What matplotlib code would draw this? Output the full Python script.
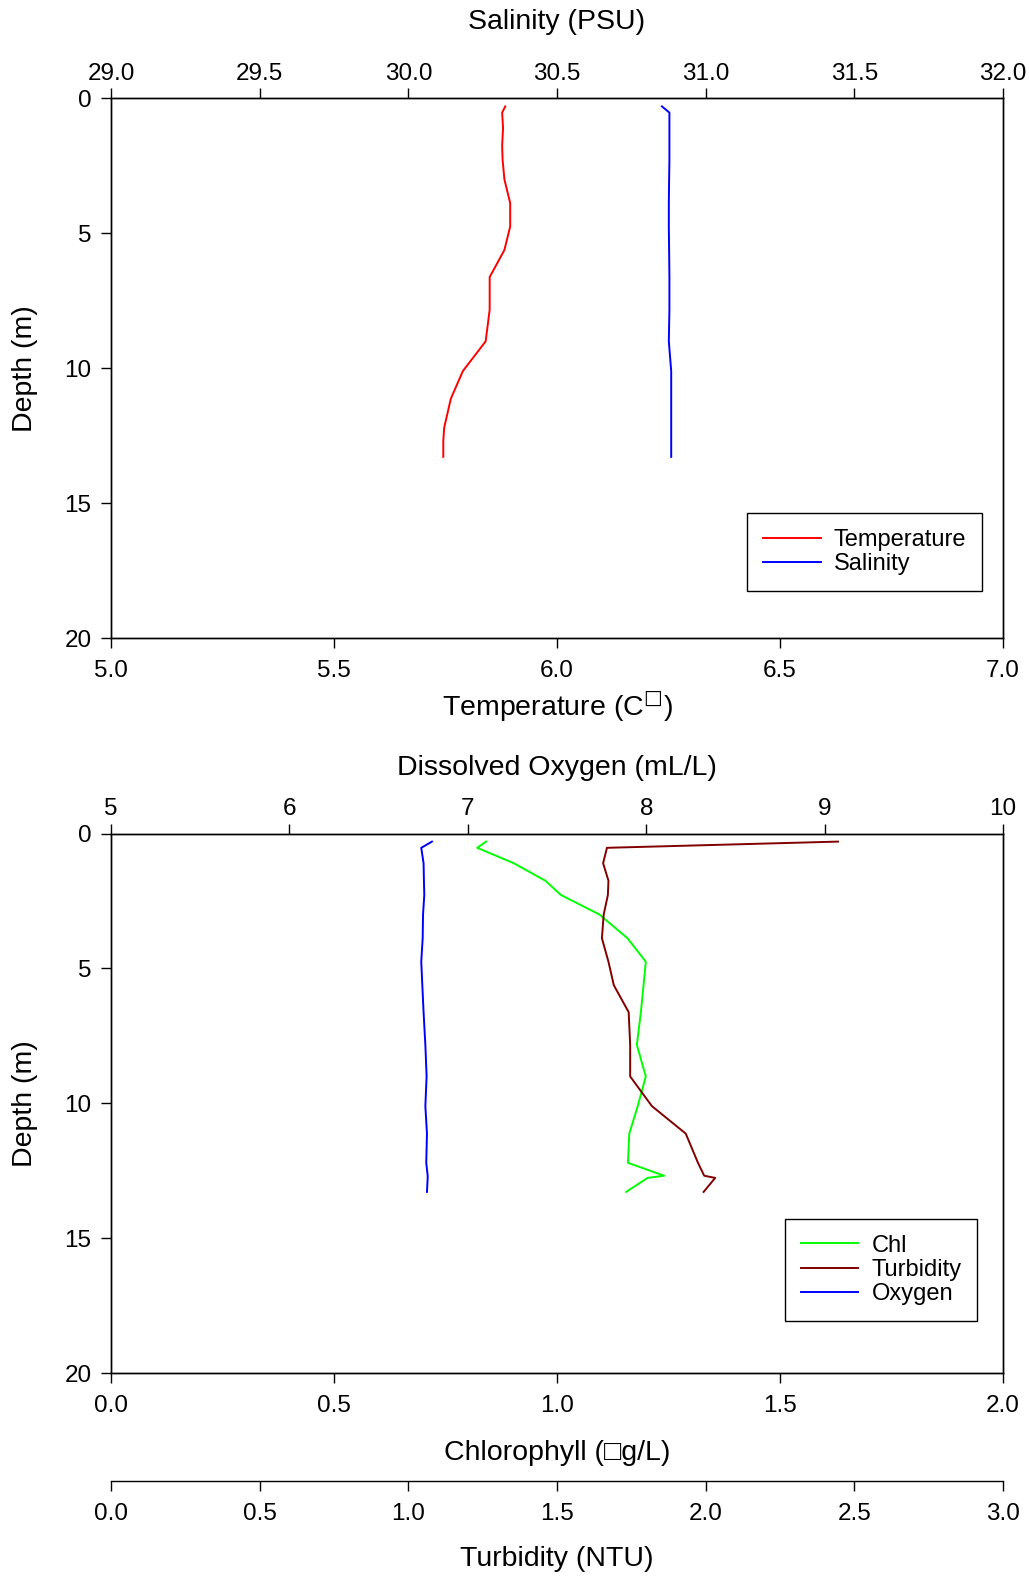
import matplotlib
matplotlib.use('Agg')
import matplotlib.pyplot as plt
from matplotlib.ticker import FormatStrFormatter, MultipleLocator

plt.rcParams['font.family'] = ['Liberation Sans', 'DejaVu Sans']

# CTD cast, one value per depth bin
depth = [0.3, 0.53, 1.1, 1.75, 2.28, 3.0, 3.88, 4.75, 5.62, 6.62, 7.83,
         9.0, 10.1, 11.12, 12.2, 12.68, 12.76, 13.28]
temperature = [5.884, 5.877, 5.879, 5.877, 5.878, 5.882, 5.895, 5.895, 5.882,
               5.849, 5.849, 5.840, 5.789, 5.762, 5.747, 5.745, 5.745, 5.745]
salinity = [30.853, 30.878, 30.878, 30.878, 30.878, 30.877, 30.876, 30.876,
            30.877, 30.878, 30.878, 30.876, 30.884, 30.884, 30.884, 30.884,
            30.884, 30.884]
chl = [0.841, 0.821, 0.903, 0.974, 1.009, 1.095, 1.158, 1.199, 1.194, 1.188,
       1.179, 1.199, 1.181, 1.162, 1.159, 1.240, 1.203, 1.155]
turbidity = [2.445, 1.668, 1.655, 1.673, 1.671, 1.657, 1.651, 1.673, 1.691,
             1.741, 1.746, 1.746, 1.819, 1.933, 1.974, 1.995, 2.032, 1.993]
oxygen = [6.799, 6.739, 6.752, 6.754, 6.756, 6.749, 6.747, 6.739, 6.745,
          6.752, 6.762, 6.769, 6.762, 6.771, 6.767, 6.775, 6.775, 6.771]

TICK = 17.5
LABEL = 20.5
LEG = 17
LW = 1.4

fig = plt.figure(figsize=(10.29, 15.77), dpi=100)


def style(ax, pad):
    for s in ax.spines.values():
        s.set_linewidth(1.0)
    ax.tick_params(direction='out', length=7, width=1.0, labelsize=TICK, pad=pad)


def depth_axis(ax):
    ax.set_ylim(20, 0)
    ax.yaxis.set_major_locator(MultipleLocator(5))
    ax.tick_params(axis='y', pad=7)
    ax.set_ylabel('Depth (m)', fontsize=LABEL, va='center')
    ax.yaxis.set_label_coords(-0.0964, 0.5)


def legend(handles, x, y):
    leg = fig.legend(handles=handles, loc='upper left',
                     bbox_to_anchor=(x / 1029, 1 - y / 1577),
                     bbox_transform=fig.transFigure, borderaxespad=0,
                     fontsize=LEG, fancybox=False, edgecolor='black',
                     framealpha=1, handlelength=2.45, handletextpad=0.55,
                     labelspacing=0.1, borderpad=0.66)
    leg.get_frame().set_linewidth(1.0)


# ---- top panel: temperature / salinity ----
ax_t = fig.add_axes([0.10787, 0.59524, 0.8669, 0.34242])
ax_s = ax_t.twiny()
style(ax_t, 8.5)
style(ax_s, 2.5)
depth_axis(ax_t)

l_temp, = ax_t.plot(temperature, depth, color='#ff0000', lw=LW, label='Temperature')
l_sal, = ax_s.plot(salinity, depth, color='#0000ff', lw=LW, label='Salinity')

ax_t.set_xlim(5.0, 7.0)
ax_t.xaxis.set_major_locator(MultipleLocator(0.5))
ax_t.xaxis.set_major_formatter(FormatStrFormatter('%.1f'))
ax_t.set_xlabel('Temperature (C$^{\u25a1}$)', fontsize=LABEL, va='center')
ax_t.xaxis.set_label_coords(0.5, -0.1272)

ax_s.set_xlim(29.0, 32.0)
ax_s.xaxis.set_major_locator(MultipleLocator(0.5))
ax_s.xaxis.set_major_formatter(FormatStrFormatter('%.1f'))
ax_s.set_xlabel('Salinity (PSU)', fontsize=LABEL, va='center')
ax_s.xaxis.set_label_coords(0.5, 1.1413)

legend([l_temp, l_sal], 747.3, 513.3)

# ---- bottom panel: chlorophyll / turbidity / oxygen ----
ax_c = fig.add_axes([0.10787, 0.12917, 0.8669, 0.34229])
ax_o = ax_c.twiny()
ax_n = ax_c.twiny()
style(ax_c, 8.5)
style(ax_o, 2.5)
style(ax_n, 8.5)
depth_axis(ax_c)

l_chl, = ax_c.plot(chl, depth, color='#00ff00', lw=LW, label='Chl')
l_turb, = ax_n.plot(turbidity, depth, color='#800000', lw=LW, label='Turbidity')
l_oxy, = ax_o.plot(oxygen, depth, color='#0000ff', lw=LW, label='Oxygen')

ax_c.set_xlim(0.0, 2.0)
ax_c.xaxis.set_major_locator(MultipleLocator(0.5))
ax_c.xaxis.set_major_formatter(FormatStrFormatter('%.1f'))
ax_c.set_xlabel('Chlorophyll (\u25a1g/L)', fontsize=LABEL, va='center')
ax_c.xaxis.set_label_coords(0.5, -0.1482)

ax_o.set_xlim(5, 10)
ax_o.xaxis.set_major_locator(MultipleLocator(1))
ax_o.set_xlabel('Dissolved Oxygen (mL/L)', fontsize=LABEL, va='center')
ax_o.xaxis.set_label_coords(0.5, 1.1206)

# turbidity gets its own axis line below the chlorophyll one
ax_n.set_xlim(0.0, 3.0)
ax_n.xaxis.set_ticks_position('bottom')
ax_n.xaxis.set_label_position('bottom')
for side in ('top', 'left', 'right'):
    ax_n.spines[side].set_visible(False)
ax_n.spines['bottom'].set_position(('axes', -0.2004))
ax_n.xaxis.set_major_locator(MultipleLocator(0.5))
ax_n.xaxis.set_major_formatter(FormatStrFormatter('%.1f'))
ax_n.set_xlabel('Turbidity (NTU)', fontsize=LABEL, va='center')
ax_n.xaxis.set_label_coords(0.5, -0.3440)

legend([l_chl, l_turb, l_oxy], 785, 1219)

fig.savefig('out.png', dpi=100)
